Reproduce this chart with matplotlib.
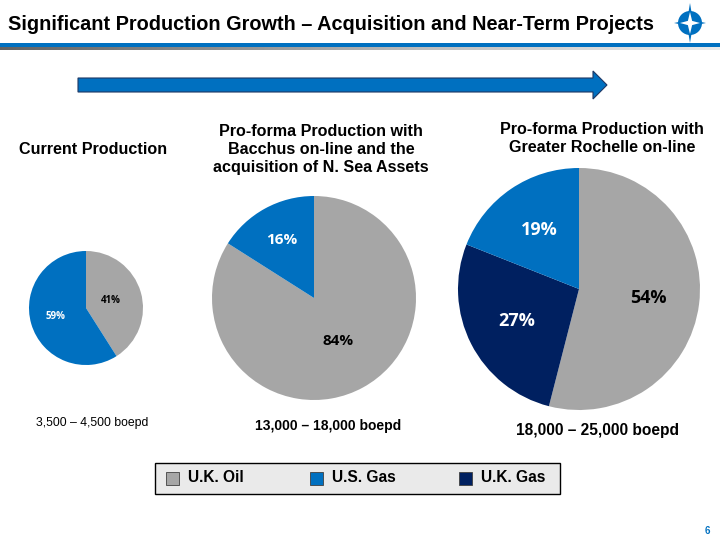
import matplotlib
matplotlib.use("Agg")
import matplotlib.pyplot as plt
import matplotlib.patches as mpatches
import numpy as np

plt.rcParams['font.family'] = ['Liberation Sans', 'DejaVu Sans']

# данні
scenarios = ["Current Production",
             "Pro-forma Production with\nBacchus on-line and the\nacquisition of N. Sea Assets",
             "Pro-forma Production with\nGreater Rochelle on-line"]
volumes = ["3,500 – 4,500 boepd", "13,000 – 18,000 boepd", "18,000 – 25,000 boepd"]
products = ["U.K. Oil", "U.S. Gas", "U.K. Gas"]
uk_oil = [41, 84, 54]
us_gas = [59, 16, 19]
uk_gas = [0, 0, 27]

GRAY, BLUE, NAVY = "#A6A6A6", "#0070C0", "#002060"
colors = {"U.K. Oil": GRAY, "U.S. Gas": BLUE, "U.K. Gas": NAVY}

W, H = 720, 540
fig = plt.figure(figsize=(7.2, 5.4), dpi=100)
bg = fig.add_axes([0, 0, 1, 1])
bg.set_xlim(0, W)
bg.set_ylim(H, 0)
bg.axis("off")

# заголовок
bg.text(8, 25, "Significant Production Growth – Acquisition and Near-Term Projects",
        fontsize=14.3, fontweight="bold", va="center", ha="left")
bg.add_patch(mpatches.Rectangle((0, 43), W, 4, color=BLUE, lw=0))
grad = np.linspace(0, 1, 256).reshape(1, -1)
bg.imshow(grad, extent=(0, W, 50, 47), cmap="Greys_r", vmin=-0.6, vmax=1.3, aspect="auto")

# логотип
def star(cx, cy, rx, ry, inner):
    pts = []
    for k in range(8):
        a = np.pi / 2 + k * np.pi / 4
        if k % 2 == 0:
            r = (ry if k % 4 == 0 else rx)
        else:
            r = inner
        pts.append((cx + r * np.cos(a), cy - r * np.sin(a)))
    return pts

bg.add_patch(mpatches.Polygon(star(690, 23, 16, 20, 4), color=BLUE, lw=0))
bg.add_patch(mpatches.Circle((690, 23), 12, color=BLUE, lw=0))
bg.add_patch(mpatches.Polygon(star(690, 23, 10, 11, 3), color="white", lw=0))

# стрілка
bg.add_patch(mpatches.FancyArrow(78, 85, 529, 0, width=14, head_width=28, head_length=14,
                                 length_includes_head=True, fc=BLUE, ec="#1F3864", lw=0.8))

# кругові діаграми
centers = [(86, 308), (314, 298), (579, 289)]
radii = [57, 102, 121]
label_sizes = [7, 11, 13]
label_dist = [[0.45, 0.56], [0.48, 0.65], [0.58, 0.58, 0.59]]
head_pos = [(93, 150), (321, 149.5), (602, 138.5)]
vol_pos = [(92, 423), (328, 426), (598, 431)]
vol_size = [8.8, 10.0, 11.2]
vol_weight = ["normal", "bold", "bold"]

for i in range(3):
    cx, cy = centers[i]
    r = radii[i]
    vals = [uk_oil[i], uk_gas[i], us_gas[i]]
    names = ["U.K. Oil", "U.K. Gas", "U.S. Gas"]
    keep = [j for j, v in enumerate(vals) if v > 0]
    vals = [vals[j] for j in keep]
    names = [names[j] for j in keep]
    ax = fig.add_axes([(cx - r) / W, 1 - (cy + r) / H, 2 * r / W, 2 * r / H])
    wedges, _ = ax.pie(vals, colors=[colors[n] for n in names], startangle=90,
                       counterclock=False, radius=1,
                       wedgeprops=dict(linewidth=0))
    for k, (w, v, n) in enumerate(zip(wedges, vals, names)):
        a = np.deg2rad((w.theta1 + w.theta2) / 2)
        d = label_dist[i][k]
        ax.text(d * np.cos(a), d * np.sin(a), f"{v}%", ha="center", va="center",
                fontsize=label_sizes[i], fontweight="bold",
                family=["Open Sans", "DejaVu Sans"],
                color="black" if n == "U.K. Oil" else "white")
    ax.set_xlim(-1, 1)
    ax.set_ylim(-1, 1)
    ax.axis("off")

    bg.text(head_pos[i][0], head_pos[i][1], scenarios[i], ha="center", va="center",
            fontsize=11.6, fontweight="bold", linespacing=1.25)
    bg.text(vol_pos[i][0], vol_pos[i][1], volumes[i], ha="center", va="center",
            fontsize=vol_size[i], fontweight=vol_weight[i])

# легенда
bg.add_patch(mpatches.Rectangle((155, 463), 405, 31, fc="#EAEAEA", ec="black", lw=1))
leg_x = [172, 316, 465]
for x, n in zip(leg_x, products):
    bg.add_patch(mpatches.Rectangle((x - 6, 472), 13, 13, fc=colors[n], ec="#404040", lw=0.6))
    bg.text(x + 16, 477.5, n, ha="left", va="center", fontsize=11.2, fontweight="bold")

bg.text(707, 531, "6", ha="center", va="center", fontsize=7, fontweight="bold", color=BLUE)

fig.savefig("out.png", dpi=100)
